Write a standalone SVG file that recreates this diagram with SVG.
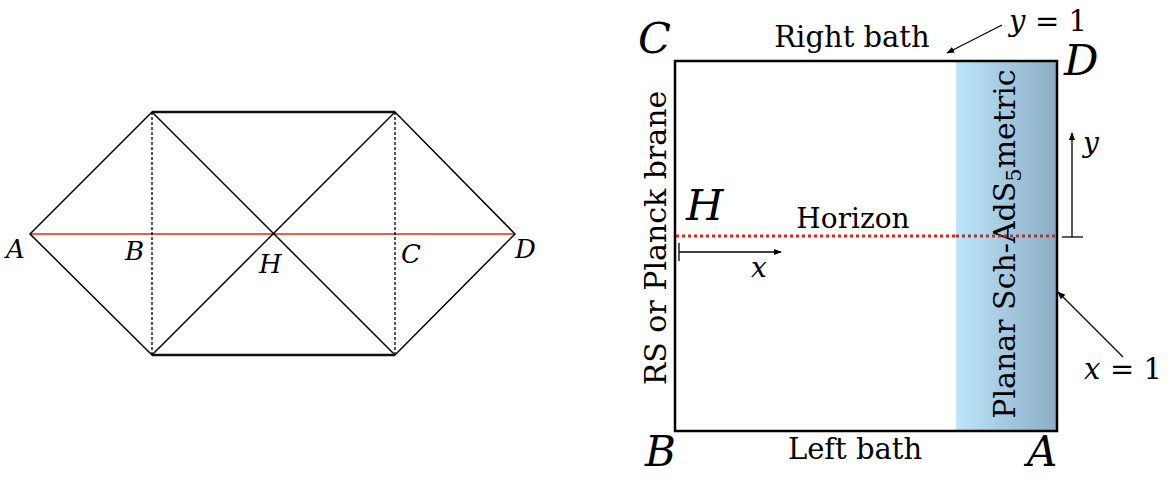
<svg xmlns="http://www.w3.org/2000/svg" width="1170" height="477" viewBox="0 0 1170 477">
<style>
.ln{stroke:#000;stroke-width:1.5;fill:none}
.dash{stroke:#000;stroke-width:1.3;stroke-dasharray:3 2;fill:none}
.thick{stroke:#111;stroke-width:2.6;fill:none}
.it{font-family:"DejaVu Serif","Liberation Serif",serif;font-style:italic;fill:#000}
.rm{font-family:"DejaVu Serif","Liberation Serif",serif;fill:#000}
.arr{stroke:#000;stroke-width:1.3;fill:none}
</style>
<defs>
<linearGradient id="g" x1="0" y1="0" x2="1" y2="0">
<stop offset="0" stop-color="#bde6fa"/>
<stop offset="1" stop-color="#8cadc4"/>
</linearGradient>
<marker id="ah" viewBox="0 0 10 10" refX="9" refY="5" markerWidth="8" markerHeight="8" orient="auto" markerUnits="userSpaceOnUse">
<path d="M0,1 L10,5 L0,9 Z" fill="#000"/>
</marker>
</defs>

<g id="penrose">
<line x1="30" y1="234" x2="515" y2="234" stroke="#e8604f" stroke-width="2"/>
<path class="ln" d="M30,234 L152,112 L395,355 L515,234 L395,112 L152,355 Z"/>
<line class="thick" x1="152" y1="112" x2="395" y2="112"/>
<line class="thick" x1="152" y1="355" x2="395" y2="355"/>
<line class="dash" x1="152" y1="112" x2="152" y2="355"/>
<line class="dash" x1="395" y1="112" x2="395" y2="355"/>
<text class="it" x="6" y="258" font-size="26">A</text>
<text class="it" x="125" y="260" font-size="26">B</text>
<text class="it" x="259" y="273" font-size="26">H</text>
<text class="it" x="401" y="263" font-size="26">C</text>
<text class="it" x="515" y="258" font-size="26">D</text>
</g>

<g id="strip">
<rect x="956" y="61" width="101" height="370" fill="url(#g)"/>
<rect x="675" y="61" width="382" height="370" fill="none" stroke="#000" stroke-width="2.5"/>
<text class="rm" font-size="30" text-anchor="middle" transform="translate(1015,244) rotate(-90)">Planar Sch-AdS<tspan font-size="21" dy="6">5</tspan><tspan dy="-6">metric</tspan></text>
<text class="rm" font-size="30" text-anchor="middle" transform="translate(666,238) rotate(-90)">RS or Planck brane</text>
</g>

<g id="horizon">
<line x1="676" y1="236" x2="956" y2="236" stroke="#e8201a" stroke-width="3" stroke-dasharray="3 3"/>
<line x1="956" y1="236" x2="1056" y2="236" stroke="#a03a3a" stroke-width="3" stroke-dasharray="3 3"/>
<text class="it" x="686" y="220" font-size="43">H</text>
<text class="rm" x="853" y="228" font-size="28" text-anchor="middle">Horizon</text>
</g>

<g id="labels">
<text class="it" x="638" y="53" font-size="43">C</text>
<text class="it" x="1064" y="75" font-size="43">D</text>
<text class="it" x="645" y="466" font-size="42">B</text>
<text class="it" x="1027" y="466" font-size="42">A</text>
<text class="rm" x="852" y="47" font-size="29" text-anchor="middle">Right bath</text>
<text class="rm" x="855" y="459" font-size="29" text-anchor="middle">Left bath</text>
<text class="it" x="1009" y="31" font-size="29">y</text>
<text class="rm" x="1035" y="31" font-size="29">= 1</text>
<text class="it" x="1084" y="379" font-size="29">x</text>
<text class="rm" x="1110" y="379" font-size="29">= 1</text>
<text class="it" x="751" y="277" font-size="28">x</text>
<text class="it" x="1083" y="152" font-size="28">y</text>
</g>

<g id="connectors">
<line class="arr" x1="1002" y1="25" x2="947" y2="53" marker-end="url(#ah)"/>
<line class="arr" x1="1123" y1="357" x2="1058" y2="292" marker-end="url(#ah)"/>
<line class="arr" x1="679" y1="252" x2="781" y2="252" marker-end="url(#ah)"/>
<line class="arr" x1="679" y1="243" x2="679" y2="261"/>
<line class="arr" x1="1062" y1="237" x2="1083" y2="237" stroke="#333"/>
<line class="arr" x1="1072" y1="237" x2="1072" y2="133" stroke="#333" marker-end="url(#ah)"/>
</g>
</svg>
